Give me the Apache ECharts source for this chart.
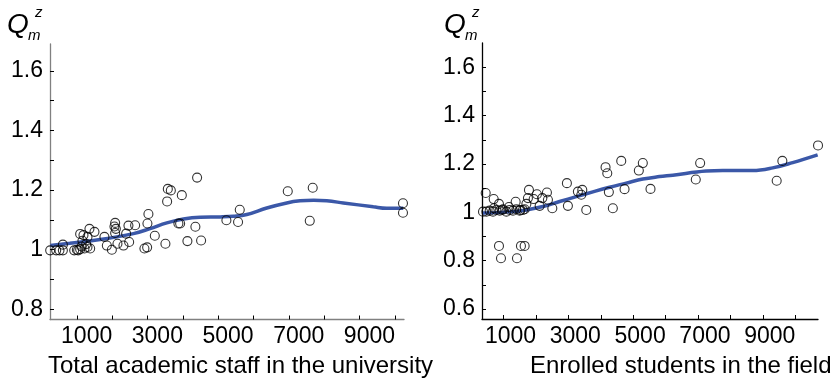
<!DOCTYPE html>
<html><head><meta charset="utf-8">
<script src="https://cdn.jsdelivr.net/npm/echarts@6/dist/echarts.min.js"></script>
<style>html,body{margin:0;padding:0;background:#fff}#c{width:831px;height:380px}</style>
</head><body><div id="c"></div>
<script>
// ---- Left panel: Total academic staff in the university ----
const staffX = [-755,-585,-492,-396,-396,-76,37,93,130,93,187,300,356,498,158,263,215,300,376,0,
  780,848,990,1083,1063,1103,1083,1148,1318,1394,1459,1479,1648,1911,1988,1996,2024,2205,2505,2553,
  2573,2658,2872,2921,2969,3127,3353,3401,3514,4230,4560,4608,5966,6672,6588,9225,9225];
const staffY = [0.998,0.998,0.998,0.998,1.017,0.998,0.998,1.002,1.011,1.053,1.049,1.043,1.070,1.060,1.030,1.019,1.004,1.009,1.004,1.000,
  1.043,1.014,1.000,1.090,1.078,1.070,1.056,1.020,1.014,1.054,1.081,1.026,1.082,1.004,1.008,1.088,1.120,1.047,1.020,1.162,
  1.204,1.199,1.088,1.088,1.183,1.029,1.077,1.242,1.031,1.099,1.093,1.134,1.196,1.208,1.097,1.156,1.124];
const staffCurveX = [-752,-200,659,1600,2072,2545,3014,3486,4051,4428,4806,5372,5937,6313,6700,7068,7537,8386,8764,9234];
const staffCurveY = [1.0145,1.022,1.034,1.054,1.071,1.090,1.103,1.109,1.110,1.112,1.118,1.140,1.157,1.164,1.166,1.164,1.157,1.144,1.139,1.139];

// ---- Right panel: Enrolled students in the field ----
const studX = [-638,-555,-308,-145,-299,-145,-83,-40,163,370,410,533,647,515,700,780,749,925,1026,1193,
  1335,1366,1110,1501,1951,1982,2290,2426,2395,2549,3144,3197,3246,3369,3628,3730,4171,4294,4531,6063,
  5928,8600,8425,9701,-534,-432,-330,-225,-123,-20,83,185,286,391,493,595,647];
const studY = [1.003,1.080,1.055,1.035,1.017,0.861,0.810,1.010,1.022,1.044,0.810,0.861,0.861,1.010,1.035,1.093,1.059,1.055,1.075,1.059,
  1.082,1.052,1.027,1.017,1.121,1.027,1.086,1.093,1.073,1.010,1.187,1.162,1.084,1.017,1.213,1.096,1.173,1.204,1.097,1.204,
  1.136,1.213,1.131,1.277,1.003,1.007,1.003,1.010,1.007,1.013,1.003,1.010,1.007,1.013,1.007,1.010,1.013];
const studCurveX = [-638,185,700,1211,1726,2241,2753,3268,3782,4294,4809,5219,6248,6760,7685,8301,8918,9689];
const studCurveY = [0.997,1.002,1.010,1.024,1.045,1.065,1.085,1.104,1.121,1.138,1.148,1.154,1.171,1.173,1.173,1.184,1.206,1.238];

// ---- Tick labels ----
const xTickValues = [0,1000,2000,3000,4000,5000,6000,7000,8000,9000];
const xLabelValues = [1000,3000,5000,7000,9000];
const leftYTicks = [0.8,0.9,1.0,1.1,1.2,1.3,1.4,1.5,1.6];
const leftYLabels = [0.8,1.0,1.2,1.4,1.6];
const rightYTicks = [0.6,0.7,0.8,0.9,1.0,1.1,1.2,1.3,1.4,1.5,1.6];
const rightYLabels = [0.6,0.8,1.0,1.2,1.4,1.6];
const xNames = ['Total academic staff in the university','Enrolled students in the field'];

const FONT = 'Liberation Sans, Arial, sans-serif';
const zip = (a,b)=>a.map((v,i)=>[v,b[i]]);
const fmtY = v => String(+(+v).toFixed(1));

function xAxis(gi, min, max, color){
  return {type:'value', gridIndex:gi, min, max,
    axisLine:{show:true, onZero:false, lineStyle:{color, width:1.3}},
    axisTick:{show:true, inside:true, length:4, customValues:xTickValues, lineStyle:{color:'#000', width:1}},
    axisLabel:{show:true, customValues:xLabelValues, align:'right', margin:6, color:'#000',
      fontFamily:FONT, fontSize:23, formatter:v=>String(v)},
    splitLine:{show:false}};
}
function yAxis(gi, min, max, ticks, labels, color){
  return {type:'value', gridIndex:gi, min, max,
    axisLine:{show:true, onZero:false, lineStyle:{color, width:1.3}},
    axisTick:{show:true, inside:true, length:4, customValues:ticks, lineStyle:{color:'#000', width:1}},
    axisLabel:{show:true, customValues:labels, margin:7, color:'#000',
      fontFamily:FONT, fontSize:23, formatter:fmtY},
    splitLine:{show:false}};
}
const scatterStyle = {color:'rgba(255,255,255,0)', borderColor:'#000', borderWidth:1.1};
const lineStyle = {color:'#3b58a8', width:3.5};

const chart = echarts.init(document.getElementById('c'), null, {renderer:'canvas'});
chart.setOption({
  animation:false,
  backgroundColor:'#fff',
  grid:[
    {left:50, top:44, width:354, height:275.5},
    {left:482, top:43, width:336, height:276}
  ],
  xAxis:[xAxis(0,-760,9254,'#808080'), xAxis(1,-669,9700,'#000')],
  yAxis:[yAxis(0,0.766,1.69,leftYTicks,leftYLabels,'#808080'), yAxis(1,0.5586,1.701,rightYTicks,rightYLabels,'#000')],
  series:[
    {type:'line', xAxisIndex:0, yAxisIndex:0, data:zip(staffCurveX,staffCurveY), smooth:0.4, showSymbol:false, symbol:'none', lineStyle, z:2},
    {type:'scatter', xAxisIndex:0, yAxisIndex:0, data:zip(staffX,staffY), symbol:'circle', symbolSize:9, itemStyle:scatterStyle, z:3},
    {type:'line', xAxisIndex:1, yAxisIndex:1, data:zip(studCurveX,studCurveY), smooth:0.4, showSymbol:false, symbol:'none', lineStyle, z:2},
    {type:'scatter', xAxisIndex:1, yAxisIndex:1, data:zip(studX,studY), symbol:'circle', symbolSize:9, itemStyle:scatterStyle, z:3}
  ],
  graphic:[
    {type:'text', x:48, y:354, style:{text:xNames[0], font:'24px '+FONT, fill:'#000'}},
    {type:'text', x:530, y:354, style:{text:xNames[1], font:'24px '+FONT, fill:'#000'}},
    {type:'text', x:7, y:11, style:{text:'Q', font:'italic 28px '+FONT, fill:'#000'}},
    {type:'text', x:35, y:5, style:{text:'z', font:'italic 15px '+FONT, fill:'#000'}},
    {type:'text', x:28, y:28, style:{text:'m', font:'italic 15px '+FONT, fill:'#000'}},
    {type:'text', x:444, y:11, style:{text:'Q', font:'italic 28px '+FONT, fill:'#000'}},
    {type:'text', x:472, y:5, style:{text:'z', font:'italic 15px '+FONT, fill:'#000'}},
    {type:'text', x:465, y:28, style:{text:'m', font:'italic 15px '+FONT, fill:'#000'}}
  ]
});
</script></body></html>
